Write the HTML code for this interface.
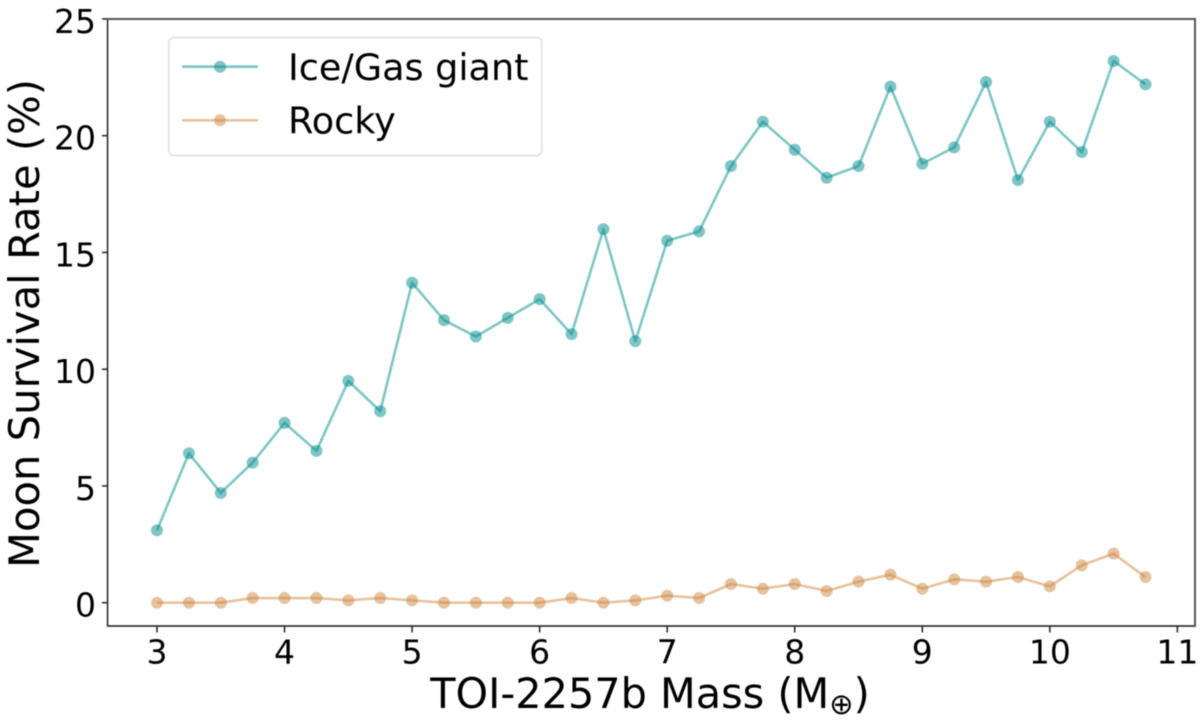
<!DOCTYPE html>
<html>
<head>
<meta charset="utf-8">
<title>Moon Survival Rate</title>
<style>
html,body{margin:0;padding:0;background:#fff;width:1200px;height:724px;overflow:hidden}
svg{display:block;filter:blur(0.55px)}
text{font-family:"DejaVu Sans","Liberation Sans",sans-serif;fill:#000}
</style>
</head>
<body>
<svg id="chart" xmlns="http://www.w3.org/2000/svg" width="1200" height="724" viewBox="0 0 1200 724">
  <g id="plot"></g>
  <g id="axes"></g>
  <rect x="106.8" y="19" width="1.5" height="607" fill="#222"/>
  <rect x="107" y="625.2" width="1088" height="1.6" fill="#222"/>
  <rect x="107" y="18" width="1088" height="2" fill="#555"/>
  <rect x="1194" y="18" width="2" height="609" fill="#555"/>
  <text x="650" y="708" font-size="41.4" text-anchor="middle">TOI-2257b Mass (M<tspan font-size="29" dy="6">⊕</tspan><tspan dy="-6">)</tspan></text>
  <text transform="translate(39,323.5) rotate(-90)" font-size="41.7" text-anchor="middle">Moon Survival Rate (%)</text>
  <g>
    <rect x="168.8" y="37.5" width="373" height="118" rx="5" fill="#fff" fill-opacity="0.8" stroke="#e0e0e0" stroke-width="1.5"/>
    <g>
      <line x1="182" y1="66.7" x2="258" y2="66.7" stroke="#008b8b" stroke-opacity="0.5" stroke-width="2.6"/>
      <circle cx="220" cy="66.7" r="6" fill="#008b8b" fill-opacity="0.5"/>
      <text x="288" y="80" font-size="36.6">Ice/Gas giant</text>
    </g>
    <g>
      <line x1="182" y1="120.3" x2="258" y2="120.3" stroke="#cd853f" stroke-opacity="0.5" stroke-width="2.6"/>
      <circle cx="220" cy="120.3" r="6" fill="#cd853f" fill-opacity="0.5"/>
      <text x="288" y="133.3" font-size="36.6">Rocky</text>
    </g>
  </g>
</svg>
<script>
const massValues = [3,3.25,3.5,3.75,4,4.25,4.5,4.75,5,5.25,5.5,5.75,6,6.25,6.5,6.75,7,7.25,7.5,7.75,8,8.25,8.5,8.75,9,9.25,9.5,9.75,10,10.25,10.5,10.75];
const iceGasGiant = [3.1,6.4,4.7,6.0,7.7,6.5,9.5,8.2,13.7,12.1,11.4,12.2,13.0,11.5,16.0,11.2,15.5,15.9,18.7,20.6,19.4,18.2,18.7,22.1,18.8,19.5,22.3,18.1,20.6,19.3,23.2,22.2];
const rocky = [0,0,0,0.2,0.2,0.2,0.1,0.2,0.1,0,0,0,0,0.2,0,0.1,0.3,0.2,0.8,0.6,0.8,0.5,0.9,1.2,0.6,1.0,0.9,1.1,0.7,1.6,2.1,1.1];
const xTicks = [3,4,5,6,7,8,9,10,11];
const yTicks = [0,5,10,15,20,25];

const NS = 'http://www.w3.org/2000/svg';
function xScale(v){ return 157 + (v - 3) * 127.55; }
function yScale(v){ return 602.7 - v * 23.35; }
function make(tag, attrs){
  const el = document.createElementNS(NS, tag);
  for (const k in attrs) el.setAttribute(k, attrs[k]);
  return el;
}
const axes = document.getElementById('axes');
const plot = document.getElementById('plot');

xTicks.forEach(function(t){
  const x = xScale(t);
  const tick = make('line', {x1:x, x2:x, y1:626, y2:632.5, stroke:'#222', 'stroke-width':1.5});
  
  
  axes.appendChild(tick);
  const label = make('text', {x:x, y:663.5, 'font-size':33, 'text-anchor':'middle'});
  
  
  label.textContent = t;
  axes.appendChild(label);
});
yTicks.forEach(function(t){
  const y = yScale(t);
  const tick = make('line', {x1:102, x2:107, y1:y, y2:y, stroke:'#222', 'stroke-width':1.5});
  
  
  axes.appendChild(tick);
  const label = make('text', {x:96, y:y + 14, 'font-size':33, 'text-anchor':'end'});
  
  
  label.textContent = t;
  axes.appendChild(label);
});

function drawSeries(values, color){
  const pts = values.map(function(v, i){ return xScale(massValues[i]) + ',' + yScale(v); }).join(' ');
  const line = make('polyline', {points:pts, fill:'none', stroke:color, 'stroke-opacity':0.5, 'stroke-width':2.6, 'stroke-linejoin':'round'});
  
  
  plot.appendChild(line);
  values.forEach(function(v, i){
    const c = make('circle', {cx:xScale(massValues[i]), cy:yScale(v), r:6, fill:color, 'fill-opacity':0.5});
    
    
    plot.appendChild(c);
  });
}
drawSeries(iceGasGiant, '#008b8b');
drawSeries(rocky, '#cd853f');
</script>
</body>
</html>
